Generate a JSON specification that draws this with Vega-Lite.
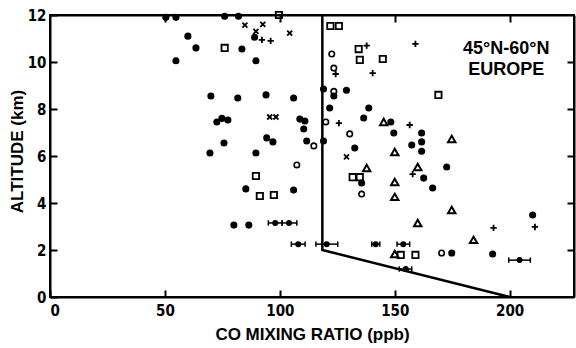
{
  "$schema": "https://vega.github.io/schema/vega-lite/v6.json",
  "width": 524,
  "height": 282,
  "autosize": {"type": "none"},
  "padding": {"left": 50, "top": 15, "right": 2, "bottom": 51},
  "background": "white",
  "config": {
    "view": {"stroke": "black", "strokeWidth": 2},
    "axis": {
      "grid": false,
      "domainColor": "black",
      "domainWidth": 2,
      "tickColor": "black",
      "tickWidth": 2,
      "tickSize": -7,
      "labelColor": "black",
      "labelFont": "DejaVu Sans Condensed, Liberation Sans Narrow, sans-serif",
      "labelFontSize": 15,
      "labelFontWeight": "bold",
      "titleColor": "black",
      "titleFont": "Liberation Sans, Arial, sans-serif",
      "titleFontSize": 17,
      "titleFontWeight": "bold"
    }
  },
  "datasets": {
    "pts": [
      {"co": 50.4, "alt": 11.9, "sym": "filled"},
      {"co": 54.8, "alt": 11.9, "sym": "filled"},
      {"co": 76, "alt": 11.95, "sym": "filled"},
      {"co": 82, "alt": 11.95, "sym": "filled"},
      {"co": 60, "alt": 11.1, "sym": "filled"},
      {"co": 63.5, "alt": 10.6, "sym": "filled"},
      {"co": 54.8, "alt": 10.05, "sym": "filled"},
      {"co": 83.5, "alt": 10.55, "sym": "filled"},
      {"co": 89.6, "alt": 10.05, "sym": "filled"},
      {"co": 89, "alt": 11.05, "sym": "filled"},
      {"co": 70, "alt": 8.55, "sym": "filled"},
      {"co": 81.7, "alt": 8.47, "sym": "filled"},
      {"co": 94, "alt": 8.6, "sym": "filled"},
      {"co": 106, "alt": 8.47, "sym": "filled"},
      {"co": 72.6, "alt": 7.45, "sym": "filled"},
      {"co": 74.8, "alt": 7.6, "sym": "filled"},
      {"co": 77.4, "alt": 7.53, "sym": "filled"},
      {"co": 75.7, "alt": 6.55, "sym": "filled"},
      {"co": 69.6, "alt": 6.13, "sym": "filled"},
      {"co": 94.3, "alt": 6.77, "sym": "filled"},
      {"co": 97, "alt": 6.6, "sym": "filled"},
      {"co": 89.6, "alt": 6.13, "sym": "filled"},
      {"co": 119, "alt": 8.85, "sym": "filled"},
      {"co": 129, "alt": 8.8, "sym": "filled"},
      {"co": 123.5, "alt": 8.55, "sym": "filled"},
      {"co": 121.7, "alt": 8.04, "sym": "filled"},
      {"co": 138.7, "alt": 8.04, "sym": "filled"},
      {"co": 136.5, "alt": 7.62, "sym": "filled"},
      {"co": 108.7, "alt": 7.57, "sym": "filled"},
      {"co": 110.9, "alt": 7.49, "sym": "filled"},
      {"co": 110.4, "alt": 7.15, "sym": "filled"},
      {"co": 148.3, "alt": 7.45, "sym": "filled"},
      {"co": 149.6, "alt": 6.98, "sym": "filled"},
      {"co": 161.7, "alt": 6.98, "sym": "filled"},
      {"co": 157.4, "alt": 6.47, "sym": "filled"},
      {"co": 161.7, "alt": 6.6, "sym": "filled"},
      {"co": 161.7, "alt": 6.2, "sym": "filled"},
      {"co": 111.7, "alt": 6.64, "sym": "filled"},
      {"co": 119, "alt": 6.64, "sym": "filled"},
      {"co": 132.6, "alt": 6.34, "sym": "filled"},
      {"co": 85.2, "alt": 4.6, "sym": "filled"},
      {"co": 106, "alt": 4.55, "sym": "filled"},
      {"co": 80, "alt": 3.06, "sym": "filled"},
      {"co": 86.5, "alt": 3.06, "sym": "filled"},
      {"co": 135.6, "alt": 4.85, "sym": "filled"},
      {"co": 162.6, "alt": 5.06, "sym": "filled"},
      {"co": 172.6, "alt": 5.53, "sym": "filled"},
      {"co": 166.5, "alt": 4.64, "sym": "filled"},
      {"co": 210, "alt": 3.49, "sym": "filled"},
      {"co": 174.8, "alt": 1.87, "sym": "filled"},
      {"co": 192.6, "alt": 1.83, "sym": "filled"},
      {"co": 122.6, "alt": 10.34, "sym": "open"},
      {"co": 123.5, "alt": 9.74, "sym": "open"},
      {"co": 123.5, "alt": 8.75, "sym": "open"},
      {"co": 120, "alt": 7.45, "sym": "open"},
      {"co": 130.4, "alt": 6.94, "sym": "open"},
      {"co": 114.8, "alt": 6.43, "sym": "open"},
      {"co": 107.4, "alt": 5.62, "sym": "open"},
      {"co": 135.6, "alt": 4.38, "sym": "open"},
      {"co": 170.4, "alt": 1.87, "sym": "open"},
      {"co": 76, "alt": 10.6, "sym": "square"},
      {"co": 99.6, "alt": 12.0, "sym": "square"},
      {"co": 122, "alt": 11.53, "sym": "square"},
      {"co": 125.7, "alt": 11.53, "sym": "square"},
      {"co": 134.3, "alt": 10.55, "sym": "square"},
      {"co": 134.8, "alt": 10.09, "sym": "square"},
      {"co": 144.8, "alt": 10.13, "sym": "square"},
      {"co": 169, "alt": 8.6, "sym": "square"},
      {"co": 89.6, "alt": 5.15, "sym": "square"},
      {"co": 91.3, "alt": 4.3, "sym": "square"},
      {"co": 97.4, "alt": 4.34, "sym": "square"},
      {"co": 131.7, "alt": 5.1, "sym": "square"},
      {"co": 134.8, "alt": 5.1, "sym": "square"},
      {"co": 152.6, "alt": 1.79, "sym": "square"},
      {"co": 159, "alt": 1.79, "sym": "square"},
      {"co": 145.2, "alt": 7.45, "sym": "triangle"},
      {"co": 150, "alt": 6.17, "sym": "triangle"},
      {"co": 137.8, "alt": 5.49, "sym": "triangle"},
      {"co": 150, "alt": 4.89, "sym": "triangle"},
      {"co": 150, "alt": 4.26, "sym": "triangle"},
      {"co": 160, "alt": 5.53, "sym": "triangle"},
      {"co": 160, "alt": 3.15, "sym": "triangle"},
      {"co": 174.8, "alt": 6.72, "sym": "triangle"},
      {"co": 174.8, "alt": 3.7, "sym": "triangle"},
      {"co": 184.3, "alt": 2.43, "sym": "triangle"},
      {"co": 150, "alt": 1.83, "sym": "triangle"},
      {"co": 92.2, "alt": 10.94, "sym": "plus"},
      {"co": 96, "alt": 10.9, "sym": "plus"},
      {"co": 137.8, "alt": 10.7, "sym": "plus"},
      {"co": 159, "alt": 10.77, "sym": "plus"},
      {"co": 124.3, "alt": 9.49, "sym": "plus"},
      {"co": 140.4, "alt": 9.53, "sym": "plus"},
      {"co": 125.7, "alt": 7.4, "sym": "plus"},
      {"co": 156.5, "alt": 7.32, "sym": "plus"},
      {"co": 157.8, "alt": 5.23, "sym": "plus"},
      {"co": 193, "alt": 2.94, "sym": "plus"},
      {"co": 211, "alt": 2.98, "sym": "plus"},
      {"co": 84.8, "alt": 11.57, "sym": "x"},
      {"co": 92.6, "alt": 11.6, "sym": "x"},
      {"co": 104.3, "alt": 11.23, "sym": "x"},
      {"co": 89.6, "alt": 11.3, "sym": "x"},
      {"co": 95.6, "alt": 7.66, "sym": "x"},
      {"co": 98.3, "alt": 7.66, "sym": "x"},
      {"co": 129, "alt": 5.96, "sym": "x"}
    ],
    "errs": [
      {"co": 98, "lo": 95, "hi": 101, "alt": 3.15},
      {"co": 104, "lo": 101, "hi": 107.4, "alt": 3.15},
      {"co": 108, "lo": 105, "hi": 111, "alt": 2.25},
      {"co": 120.4, "lo": 115.7, "hi": 125.2, "alt": 2.25},
      {"co": 141.7, "lo": 140, "hi": 143.5, "alt": 2.25},
      {"co": 153.7, "lo": 151, "hi": 156.5, "alt": 2.25},
      {"co": 154.8, "lo": 152, "hi": 157.4, "alt": 1.19},
      {"co": 204.3, "lo": 199.6, "hi": 209, "alt": 1.57}
    ],
    "frame": [
      {"co": 118.5, "alt": 12, "o": 1},
      {"co": 118.5, "alt": 2, "o": 2},
      {"co": 200, "alt": 0, "o": 3}
    ],
    "txt": [
      {"co": 198.5, "alt": 10.55, "label": "45°N-60°N"},
      {"co": 198.5, "alt": 9.68, "label": "EUROPE"}
    ]
  },
  "layer": [
    {
      "data": {"name": "frame"},
      "mark": {"type": "line", "color": "black", "strokeWidth": 2.5},
      "encoding": {
        "x": {"field": "co", "type": "quantitative", "scale": {"domain": [0, 228], "nice": false, "zero": false},
          "axis": {"orient": "bottom", "values": [0, 50, 100, 150, 200], "title": "CO MIXING RATIO (ppb)", "labelPadding": 13, "titleX": 262, "titleY": 37, "titleBaseline": "middle", "titleAlign": "center"}},
        "y": {"field": "alt", "type": "quantitative", "scale": {"domain": [0, 12], "nice": false, "zero": false},
          "axis": {"orient": "left", "values": [0, 2, 4, 6, 8, 10, 12], "title": "ALTITUDE (km)", "labelPadding": 11, "titleX": -33, "titleY": 136, "titleAngle": -90, "titleBaseline": "middle", "titleAlign": "center"}},
        "order": {"field": "o", "type": "quantitative"}
      }
    },
    {
      "data": {"name": "pts"},
      "transform": [{"filter": "datum.sym === 'filled'"}],
      "mark": {"type": "point", "shape": "circle", "filled": true, "color": "black", "opacity": 1, "size": 50},
      "encoding": {
        "x": {"field": "co", "type": "quantitative", "scale": {"domain": [0, 228], "nice": false, "zero": false},
          "axis": {"orient": "top", "values": [50, 100, 150, 200], "labels": false, "title": null}},
        "y": {"field": "alt", "type": "quantitative", "scale": {"domain": [0, 12], "nice": false, "zero": false},
          "axis": {"orient": "right", "values": [2, 4, 6, 8, 10], "labels": false, "title": null}}
      }
    },
    {
      "data": {"name": "pts"},
      "transform": [{"filter": "datum.sym === 'open'"}],
      "mark": {"type": "point", "shape": "circle", "filled": false, "color": "black", "opacity": 1, "size": 30, "strokeWidth": 1.6},
      "encoding": {
        "x": {"field": "co", "type": "quantitative", "scale": {"domain": [0, 228], "nice": false, "zero": false}, "axis": null},
        "y": {"field": "alt", "type": "quantitative", "scale": {"domain": [0, 12], "nice": false, "zero": false}, "axis": null}
      }
    },
    {
      "data": {"name": "pts"},
      "transform": [{"filter": "datum.sym === 'square'"}],
      "mark": {"type": "point", "shape": "square", "filled": false, "color": "black", "opacity": 1, "size": 40, "strokeWidth": 1.8},
      "encoding": {
        "x": {"field": "co", "type": "quantitative", "scale": {"domain": [0, 228], "nice": false, "zero": false}, "axis": null},
        "y": {"field": "alt", "type": "quantitative", "scale": {"domain": [0, 12], "nice": false, "zero": false}, "axis": null}
      }
    },
    {
      "data": {"name": "pts"},
      "transform": [{"filter": "datum.sym === 'triangle'"}],
      "mark": {"type": "point", "shape": "triangle-up", "filled": false, "color": "black", "opacity": 1, "size": 55, "strokeWidth": 2},
      "encoding": {
        "x": {"field": "co", "type": "quantitative", "scale": {"domain": [0, 228], "nice": false, "zero": false}, "axis": null},
        "y": {"field": "alt", "type": "quantitative", "scale": {"domain": [0, 12], "nice": false, "zero": false}, "axis": null}
      }
    },
    {
      "data": {"name": "pts"},
      "transform": [{"filter": "datum.sym === 'plus'"}],
      "mark": {"type": "point", "shape": "M-1,0L1,0M0,-1L0,1", "filled": false, "color": "black", "opacity": 1, "size": 40, "strokeWidth": 1.8},
      "encoding": {
        "x": {"field": "co", "type": "quantitative", "scale": {"domain": [0, 228], "nice": false, "zero": false}, "axis": null},
        "y": {"field": "alt", "type": "quantitative", "scale": {"domain": [0, 12], "nice": false, "zero": false}, "axis": null}
      }
    },
    {
      "data": {"name": "pts"},
      "transform": [{"filter": "datum.sym === 'x'"}],
      "mark": {"type": "point", "shape": "M-1,-1L1,1M1,-1L-1,1", "filled": false, "color": "black", "opacity": 1, "size": 25, "strokeWidth": 1.8},
      "encoding": {
        "x": {"field": "co", "type": "quantitative", "scale": {"domain": [0, 228], "nice": false, "zero": false}, "axis": null},
        "y": {"field": "alt", "type": "quantitative", "scale": {"domain": [0, 12], "nice": false, "zero": false}, "axis": null}
      }
    },
    {
      "data": {"name": "errs"},
      "mark": {"type": "rule", "color": "black", "strokeWidth": 1.5},
      "encoding": {
        "x": {"field": "lo", "type": "quantitative", "scale": {"domain": [0, 228], "nice": false, "zero": false}, "axis": null},
        "x2": {"field": "hi"},
        "y": {"field": "alt", "type": "quantitative", "scale": {"domain": [0, 12], "nice": false, "zero": false}, "axis": null}
      }
    },
    {
      "data": {"name": "errs"},
      "mark": {"type": "point", "shape": "M0,-1L0,1", "filled": false, "color": "black", "opacity": 1, "size": 30, "strokeWidth": 1.5},
      "encoding": {
        "x": {"field": "lo", "type": "quantitative", "scale": {"domain": [0, 228], "nice": false, "zero": false}, "axis": null},
        "y": {"field": "alt", "type": "quantitative", "scale": {"domain": [0, 12], "nice": false, "zero": false}, "axis": null}
      }
    },
    {
      "data": {"name": "errs"},
      "mark": {"type": "point", "shape": "M0,-1L0,1", "filled": false, "color": "black", "opacity": 1, "size": 30, "strokeWidth": 1.5},
      "encoding": {
        "x": {"field": "hi", "type": "quantitative", "scale": {"domain": [0, 228], "nice": false, "zero": false}, "axis": null},
        "y": {"field": "alt", "type": "quantitative", "scale": {"domain": [0, 12], "nice": false, "zero": false}, "axis": null}
      }
    },
    {
      "data": {"name": "errs"},
      "mark": {"type": "point", "shape": "circle", "filled": true, "color": "black", "opacity": 1, "size": 36},
      "encoding": {
        "x": {"field": "co", "type": "quantitative", "scale": {"domain": [0, 228], "nice": false, "zero": false}, "axis": null},
        "y": {"field": "alt", "type": "quantitative", "scale": {"domain": [0, 12], "nice": false, "zero": false}, "axis": null}
      }
    },
    {
      "data": {"name": "txt"},
      "mark": {"type": "text", "font": "Liberation Sans, Arial, sans-serif", "fontSize": 18, "fontWeight": "bold", "color": "black", "align": "center", "baseline": "middle"},
      "encoding": {
        "x": {"field": "co", "type": "quantitative", "scale": {"domain": [0, 228], "nice": false, "zero": false}, "axis": null},
        "y": {"field": "alt", "type": "quantitative", "scale": {"domain": [0, 12], "nice": false, "zero": false}, "axis": null},
        "text": {"field": "label", "type": "nominal"}
      }
    }
  ],
  "resolve": {"axis": {"x": "independent", "y": "independent"}}
}
